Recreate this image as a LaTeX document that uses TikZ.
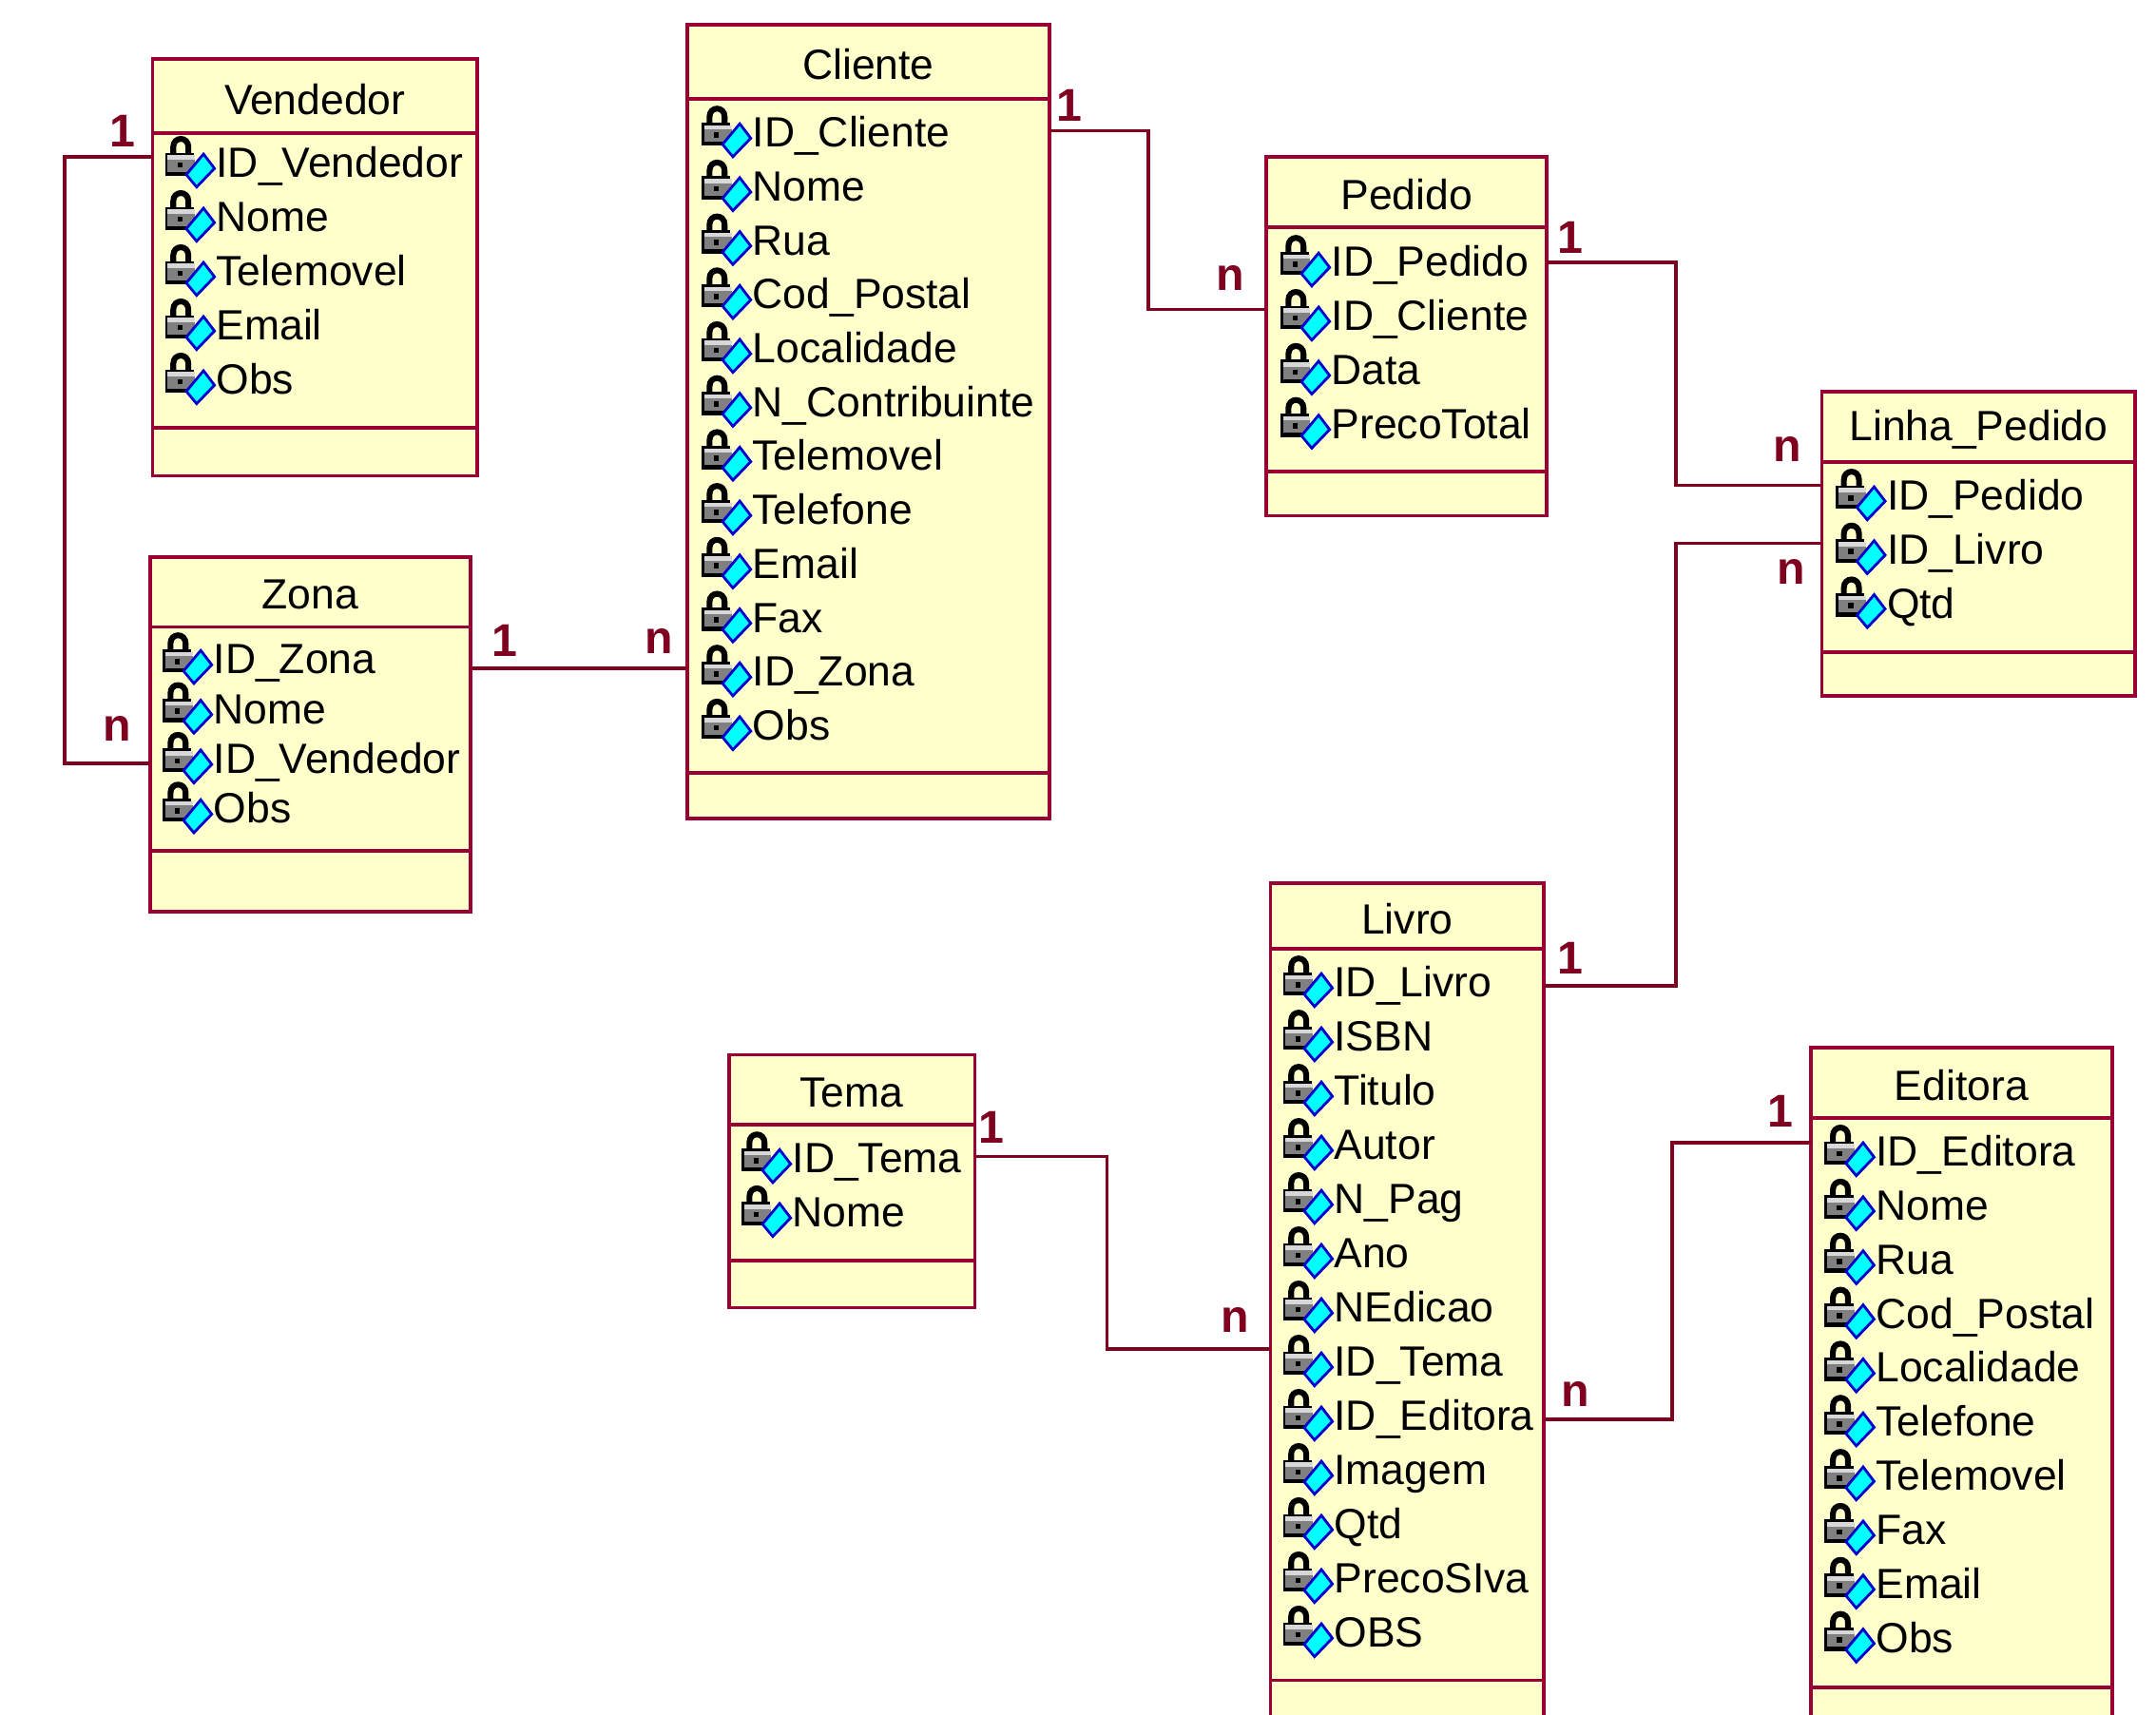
\documentclass[tikz,border=0pt]{standalone}
\usepackage{fontspec}
\setmainfont{Liberation Sans}
\usetikzlibrary{calc}
\usetikzlibrary{positioning}
\definecolor{umlline}{HTML}{990033}
\definecolor{umlrel}{HTML}{800020}
\definecolor{umlfill}{HTML}{FFFFCC}
\definecolor{keyfill}{HTML}{00FFFF}
\definecolor{keyedge}{HTML}{0000CC}
\definecolor{lockbody}{HTML}{808080}
\definecolor{lockshine}{HTML}{D8D8D8}
\newlength{\px}
\setlength{\px}{0.02cm}
\tikzset{
  classbox/.style={rectangle, draw=umlline, fill=umlfill, line width=1.5pt, anchor=north west, inner sep=0pt, outer sep=0pt},
  classline/.style={draw=umlline, line width=1.5pt},
  classtitle/.style={inner sep=0pt, font=\fontsize{17.5}{20}\selectfont},
  attr/.style={anchor=base west, inner sep=0pt, font=\fontsize{17.5}{20}\selectfont},
  rel/.style={draw=umlrel, line width=1.4pt},
  card/.style={inner sep=0pt, text=umlrel, font=\fontsize{19}{20}\selectfont\bfseries},
  lockkey/.pic={
    \draw [black, line width=2.4pt] (6,-7) -- (6,-12) .. controls (6,-20) and (17,-20) .. (17,-12) -- (17,-7);
    \fill [black] (0,-8) rectangle (21,9);
    \fill [lockbody] (2,-6) rectangle (22,6);
    \fill [lockshine] (2,-6) rectangle (22,-3);
    \fill [black] (9,-1) rectangle (13,3);
    \draw [draw=keyedge, fill=keyfill, line width=1.1pt] (36,3.5) -- (23,17) -- (15.5,8) -- (28,-7) -- cycle;
  },
}
% box with its two inner rules and its title
\newcommand{\umlclass}[8]{
  \node [classbox, minimum width=#5\px, minimum height=#6\px] (#1) at (#3,#4) {};
  \draw [classline] ($(#1.north west)+(0,#7)$) -- ($(#1.north east)+(0,#7)$);
  \draw [classline] ($(#1.north west)+(0,#8)$) -- ($(#1.north east)+(0,#8)$);
  \node [classtitle] (#1Title) at ($(#1.north)+(0,#7/2+2)$) {#2};
}
% one row per attribute: icon, then its text
\newcommand{\attrs}[5]{
  \foreach \t [count=\i from 0] in {#5} {
    \pic at (#2,{#3+#4*\i}) {lockkey};
    \node [attr] (#1\i) at (#2+37,{#3+#4*\i+10}) {\t};
  }
}
\begin{document}
\begin{tikzpicture}[x=0.02cm, y=-0.02cm]
\useasboundingbox (0,0) rectangle (1568,1247);
\clip (0,0) rectangle (1568,1247);
\fill [white] (0,0) rectangle (1568,1247);

\umlclass{Vendedor}{Vendedor}{111}{43}{236}{303}{54}{268}
\attrs{VendedorAttr}{120}{119}{39.4}{ID\_Vendedor, Nome, Telemovel, Email, Obs}

\umlclass{Zona}{Zona}{109}{405}{233}{258}{51}{214}
\attrs{ZonaAttr}{118}{480}{36.2}{ID\_Zona, Nome, ID\_Vendedor, Obs}

\umlclass{Cliente}{Cliente}{500}{18}{263}{577}{54}{544}
\attrs{ClienteAttr}{510}{97}{39.2}{ID\_Cliente, Nome, Rua, Cod\_Postal, Localidade, N\_Contribuinte, Telemovel, Telefone, Email, Fax, ID\_Zona, Obs}

\umlclass{Pedido}{Pedido}{921}{114}{204}{261}{51}{229}
\attrs{PedidoAttr}{931}{191}{39.3}{ID\_Pedido, ID\_Cliente, Data, PrecoTotal}

\umlclass{Linha}{Linha\_Pedido}{1325}{285}{228}{221}{51}{189}
\attrs{LinhaAttr}{1335}{361}{39.2}{ID\_Pedido, ID\_Livro, Qtd}

\umlclass{Tema}{Tema}{530}{767}{179}{184}{51}{150}
\attrs{TemaAttr}{539}{843}{39.2}{ID\_Tema, Nome}

\umlclass{Livro}{Livro}{924}{642}{199}{620}{48}{580}
\attrs{LivroAttr}{933}{715}{39.4}{ID\_Livro, ISBN, Titulo, Autor, N\_Pag, Ano, NEdicao, ID\_Tema, ID\_Editora, Imagem, Qtd, PrecoSIva, OBS}

\umlclass{Editora}{Editora}{1317}{762}{219}{500}{51}{465}
\attrs{EditoraAttr}{1327}{838}{39.3}{ID\_Editora, Nome, Rua, Cod\_Postal, Localidade, Telefone, Telemovel, Fax, Email, Obs}

\draw [rel] ($(Vendedor.north west)+(0,71)$) -- ++(-64,0) |- ($(Zona.north west)+(0,150)$);
\draw [rel] ($(Zona.north east)+(0,81)$) -- ($(Cliente.north west)+(0,468)$);
\draw [rel] ($(Cliente.north east)+(0,77)$) -- ++(72,0) |- ($(Pedido.north west)+(0,111)$);
\draw [rel] ($(Pedido.north east)+(0,77)$) -- ++(94,0) |- ($(Linha.north west)+(0,68)$);
\draw [rel] ($(Livro.north east)+(0,75)$) -- ++(96,0) |- ($(Linha.north west)+(0,110)$);
\draw [rel] ($(Tema.north east)+(0,74)$) -- ++(96,0) |- ($(Livro.north west)+(0,339)$);
\draw [rel] ($(Livro.north east)+(0,390)$) -- ++(93,0) |- ($(Editora.north west)+(0,69)$);

\node [card] (card1) at (89,95) {1};
\node [card] (card2) at (85,530) {n};
\node [card] (card3) at (367,466) {1};
\node [card] (card4) at (479,466) {n};
\node [card] (card5) at (778,77) {1};
\node [card] (card6) at (895,202) {n};
\node [card] (card7) at (1142,173) {1};
\node [card] (card8) at (1300,327) {n};
\node [card] (card9) at (1303,416) {n};
\node [card] (card10) at (1142,697) {1};
\node [card] (card11) at (721,820) {1};
\node [card] (card12) at (898,960) {n};
\node [card] (card13) at (1146,1014) {n};
\node [card] (card14) at (1295,808) {1};
\end{tikzpicture}
\end{document}
